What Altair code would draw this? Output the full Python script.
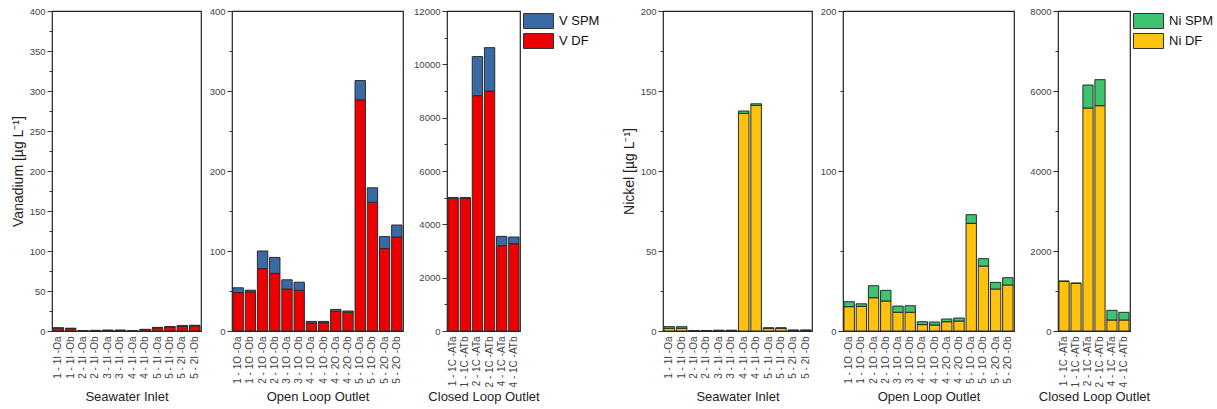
import altair as alt
import pandas as pd

# ---------------- categories ----------------
sw_samples = ["1 - 1I -Oa", "1 - 1I -Ob", "2 - 1I -Oa", "2 - 1I -Ob", "3 - 1I -Oa", "3 - 1I -Ob",
              "4 - 1I -Oa", "4 - 1I -Ob", "5 - 1I -Oa", "5 - 1I -Ob", "5 - 2I -Oa", "5 - 2I -Ob"]
ol_samples = ["1 - 1O -Oa", "1 - 1O -Ob", "2 - 1O -Oa", "2 - 1O -Ob", "3 - 1O -Oa", "3 - 1O -Ob",
              "4 - 1O -Oa", "4 - 1O -Ob", "4 - 2O -Oa", "4 - 2O -Ob", "5 - 1O -Oa", "5 - 1O -Ob",
              "5 - 2O -Oa", "5 - 2O -Ob"]
cl_samples = ["1 - 1C -ATa", "1 - 1C -ATb", "2 - 1C -ATa", "2 - 1C -ATb", "4 - 1C -ATa", "4 - 1C -ATb"]

# ---------------- Vanadium (µg/L) ----------------
v_sw_df = [3.5, 3.0, 0.3, 0.6, 0.8, 0.8, 0.3, 1.8, 4.0, 5.0, 6.0, 6.5]
v_sw_spm = [0.5, 0.5, 0.2, 0.2, 0.2, 0.2, 0.2, 0.3, 0.5, 0.5, 0.7, 0.7]
v_ol_df = [48, 49, 78, 72, 52.5, 51, 10, 10.5, 24.5, 23.5, 289, 161, 103, 117.5]
v_ol_spm = [6, 2, 22, 20, 11.5, 10, 2, 1.5, 2.5, 1.5, 24, 18, 15, 15]
v_cl_df = [4980, 4985, 8825, 9000, 3200, 3275]
v_cl_spm = [20, 15, 1465, 1625, 350, 250]

# ---------------- Nickel (µg/L) ----------------
ni_sw_df = [1.7, 1.7, 0.2, 0.2, 0.3, 0.3, 136, 141, 1.7, 1.7, 0.4, 0.4]
ni_sw_spm = [1.0, 1.0, 0.1, 0.1, 0.2, 0.2, 1.5, 1.0, 0.3, 0.3, 0.2, 0.2]
ni_ol_df = [15.2, 15.4, 20.8, 18.75, 11.7, 11.7, 4.0, 3.75, 5.8, 6.25, 67.3, 40.6, 26.25, 28.75]
ni_ol_spm = [3.1, 1.6, 7.5, 6.65, 3.9, 4.1, 1.8, 1.85, 1.7, 1.85, 5.4, 4.6, 4.15, 4.55]
ni_cl_df = [1240, 1190, 5575, 5633, 275, 275]
ni_cl_spm = [10, 10, 575, 650, 242, 192]

# ---------------- axis ticks ----------------
ticks_400_50 = [0, 25, 50, 75, 100, 125, 150, 175, 200, 225, 250, 275, 300, 325, 350, 375, 400]
ticks_400_100 = [0, 50, 100, 150, 200, 250, 300, 350, 400]
ticks_12000 = [0, 1000, 2000, 3000, 4000, 5000, 6000, 7000, 8000, 9000, 10000, 11000, 12000]
ticks_200_50 = [0, 25, 50, 75, 100, 125, 150, 175, 200]
ticks_200_100 = [0, 50, 100, 150, 200]
ticks_8000 = [0, 1000, 2000, 3000, 4000, 5000, 6000, 7000, 8000]

v_names = ["V SPM", "V DF"]
v_colors = ["#3a6aa6", "#ee0000"]
ni_names = ["Ni SPM", "Ni DF"]
ni_colors = ["#3cc46e", "#ffc20e"]

FONT = "Liberation Sans"
H = 320


def build(samples, dfv, spmv, names):
    rows = []
    for s, d, p in zip(samples, dfv, spmv):
        rows.append({"sample": s, "component": names[1], "value": d, "ord": 0})
        rows.append({"sample": s, "component": names[0], "value": p, "ord": 1})
    return pd.DataFrame(rows)


def panel(samples, dfv, spmv, names, colors, dmax, ticks, major, width,
          y_title, x_title, show_legend):
    data = build(samples, dfv, spmv, names)
    yaxis_kwargs = dict(
        values=ticks,
        format="d",
        labelExpr=f"datum.value % {major} === 0 ? datum.label : ''",
        tickSize={"condition": {"test": f"datum.value % {major} === 0", "value": 5}, "value": 3},
        domain=False,
        grid=False,
        labelFontSize=9.5,
        labelPadding=2,
        minExtent=24,
        maxExtent=24,
        titleFontSize=14,
        titlePadding=3,
        title=y_title,
    )
    if show_legend:
        legend = alt.Legend(title=None, orient="none", legendX=width + 3, legendY=2,
                            symbolType="M-1,-1H3V1H-1Z",
                            symbolSize=225, symbolStrokeColor="#333",
                            symbolStrokeWidth=1, symbolOpacity=1,
                            labelFontSize=13, labelOffset=20, labelColor="#111",
                            rowPadding=0, padding=0)
    else:
        legend = None
    return alt.Chart(data).mark_bar(stroke="#2a2a2a", strokeWidth=1).encode(
        x=alt.X("sample:N", sort=samples, title=x_title,
                scale=alt.Scale(paddingInner=0.15, paddingOuter=0.08),
                axis=alt.Axis(labelAngle=-90, ticks=False, domain=False, labelFontSize=10,
                              labelPadding=5, minExtent=52, maxExtent=52, titlePadding=7,
                              titleFontSize=13)),
        y=alt.Y("value:Q", stack="zero",
                scale=alt.Scale(domain=[0, dmax], nice=False),
                axis=alt.Axis(**yaxis_kwargs)),
        color=alt.Color("component:N",
                        scale=alt.Scale(domain=names, range=colors),
                        legend=legend),
        order=alt.Order("ord:Q"),
    ).properties(width=width, height=H)


def spacer(w):
    return alt.Chart(pd.DataFrame({"v": [0]})).mark_point(opacity=0, size=1).properties(
        width=w, height=H, view={"stroke": "transparent"}
    )


panels = [
    panel(sw_samples, v_sw_df, v_sw_spm, v_names, v_colors, 400, ticks_400_50, 50, 149,
          "Vanadium [µg L⁻¹]", "Seawater Inlet", False),
    spacer(31),
    panel(ol_samples, v_ol_df, v_ol_spm, v_names, v_colors, 400, ticks_400_100, 100, 171,
          None, "Open Loop Outlet", False),
    spacer(44),
    panel(cl_samples, v_cl_df, v_cl_spm, v_names, v_colors, 12000, ticks_12000, 2000, 73,
          None, "Closed Loop Outlet", True),
    spacer(143),
    panel(sw_samples, ni_sw_df, ni_sw_spm, ni_names, ni_colors, 200, ticks_200_50, 50, 149,
          "Nickel [µg L⁻¹]", "Seawater Inlet", False),
    spacer(31),
    panel(ol_samples, ni_ol_df, ni_ol_spm, ni_names, ni_colors, 200, ticks_200_100, 100, 171,
          None, "Open Loop Outlet", False),
    spacer(44),
    panel(cl_samples, ni_cl_df, ni_cl_spm, ni_names, ni_colors, 8000, ticks_8000, 2000, 72,
          None, "Closed Loop Outlet", True),
]

chart = alt.HConcatChart(hconcat=panels, spacing=0, bounds="flush").resolve_scale(
    color="independent"
).properties(
    padding={"left": 10, "top": 5, "right": 0, "bottom": 0}
).configure(
    font=FONT
).configure_view(
    stroke="#222", strokeWidth=1.2
).configure_axis(
    labelColor="#444", titleColor="#222", tickColor="#333", tickWidth=1,
    titleFontWeight="normal", labelFont=FONT, titleFont=FONT
).configure_legend(
    labelFont=FONT
)

chart.save("out.html", embed_options={"renderer": "svg", "actions": False})
